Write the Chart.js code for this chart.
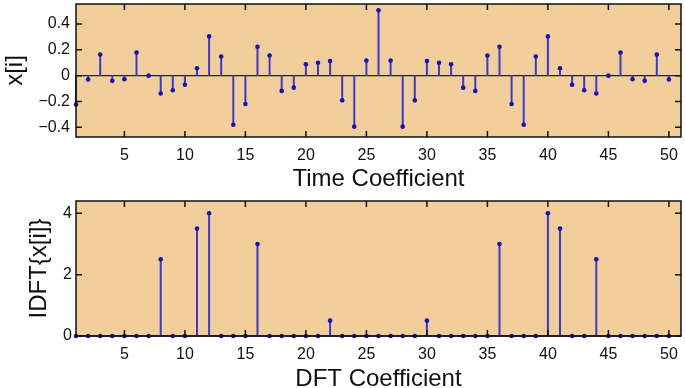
<!DOCTYPE html>
<html>
<head>
<meta charset="utf-8">
<script src="https://cdn.jsdelivr.net/npm/chart.js@4.4.0/dist/chart.umd.min.js"></script>
<style>
  html, body { margin: 0; padding: 0; background: #fff; }
  #wrap { position: relative; width: 685px; height: 388px; }
  .box { position: absolute; left: 0; width: 685px; }
</style>
</head>
<body>
<div id="wrap">
  <div class="box" style="top:0; height:195px;"><canvas id="timeChart"></canvas></div>
  <div class="box" style="top:195px; height:193px;"><canvas id="dftChart"></canvas></div>
</div>
<script>
// All Variables
const timeChart = document.getElementById('timeChart');
const dftChart = document.getElementById('dftChart');

// ---------- data ----------
const indexes = [];
for (let i = 1; i <= 50; i++) indexes.push(i);

const timeValues = [
  -0.224, -0.030, 0.164, -0.040, -0.028, 0.179, 0.000, -0.138, -0.113, -0.070,
  0.058, 0.304, 0.148, -0.380, -0.219, 0.224, 0.156, -0.118, -0.093, 0.088,
  0.100, 0.113, -0.191, -0.395, 0.118, 0.506, 0.118, -0.395, -0.191, 0.113,
  0.100, 0.088, -0.093, -0.118, 0.156, 0.224, -0.219, -0.380, 0.148, 0.304,
  0.058, -0.070, -0.113, -0.138, 0.000, 0.179, -0.028, -0.040, 0.164, -0.030
];

const dftValues = [
  0, 0, 0, 0, 0, 0, 0, 2.5, 0, 0,
  3.5, 4, 0, 0, 0, 3, 0, 0, 0, 0,
  0, 0.5, 0, 0, 0, 0, 0, 0, 0, 0.5,
  0, 0, 0, 0, 0, 3, 0, 0, 0, 4,
  3.5, 0, 0, 2.5, 0, 0, 0, 0, 0, 0
];

const xTicks = [5, 10, 15, 20, 25, 30, 35, 40, 45, 50];
const timeYTicks = [-0.4, -0.2, 0, 0.2, 0.4];
const dftYTicks = [0, 2, 4];

const bgColor = '#F2CE9A';
const stemColor = '#3636d2';
const dotColor = '#1212c0';
const fontFamily = "'Liberation Sans', Arial, Helvetica, sans-serif";

// border + inward ticks on all four sides, plus the tan background
const boxPlugin = {
  id: 'boxPlugin',
  beforeDatasetsDraw(chart) {
    const a = chart.chartArea, ctx = chart.ctx;
    ctx.save();
    ctx.fillStyle = bgColor;
    ctx.fillRect(a.left, a.top, a.right - a.left, a.bottom - a.top);
    // zero line
    const y0 = chart.scales.y.getPixelForValue(0);
    ctx.strokeStyle = '#222';
    ctx.lineWidth = 1.3;
    ctx.beginPath();
    ctx.moveTo(a.left, y0);
    ctx.lineTo(a.right, y0);
    ctx.stroke();
    ctx.restore();
  },
  afterDraw(chart) {
    const a = chart.chartArea, ctx = chart.ctx;
    const len = 6;
    ctx.save();
    ctx.strokeStyle = '#111';
    ctx.lineWidth = 1.5;
    ctx.beginPath();
    chart.scales.x.ticks.forEach(t => {
      const px = chart.scales.x.getPixelForValue(t.value);
      ctx.moveTo(px, a.bottom); ctx.lineTo(px, a.bottom - len);
      ctx.moveTo(px, a.top); ctx.lineTo(px, a.top + len);
    });
    chart.scales.y.ticks.forEach(t => {
      const py = chart.scales.y.getPixelForValue(t.value);
      ctx.moveTo(a.left, py); ctx.lineTo(a.left + len, py);
      ctx.moveTo(a.right, py); ctx.lineTo(a.right - len, py);
    });
    ctx.stroke();
    ctx.strokeRect(a.left, a.top, a.right - a.left, a.bottom - a.top);
    ctx.restore();
  }
};

function fmt(v) {
  const s = String(Math.round(v * 10) / 10);
  return s.replace('-', '\u2212');
}

function noPad(s) {
  s.paddingTop = 0; s.paddingBottom = 0; s.paddingLeft = 0; s.paddingRight = 0;
}

function stemChart(canvas, values, yMin, yMax, yTicks, xTitle, yTitle, opts) {
  const points = indexes.map((x, i) => ({ x: x, y: values[i] }));
  return new Chart(canvas, {
    type: 'bar',
    data: {
      datasets: [{
        type: 'bar',
        data: points,
        backgroundColor: stemColor,
        barThickness: 1.3,
        clip: false,
        order: 2
      }, {
        type: 'line',
        data: points,
        showLine: false,
        pointRadius: 2.3,
        pointBackgroundColor: dotColor,
        pointBorderWidth: 0,
        clip: false,
        order: 1
      }]
    },
    options: {
      responsive: true,
      maintainAspectRatio: false,
      animation: false,
      layout: { padding: opts.padding },
      plugins: { legend: { display: false }, tooltip: { enabled: false } },
      scales: {
        x: {
          type: 'linear',
          min: 1,
          max: 51,
          offset: false,
          grid: { display: false, drawTicks: false },
          border: { display: false },
          afterBuildTicks: s => { s.ticks = xTicks.map(v => ({ value: v })); },
          afterFit: s => { s.height = opts.xHeight; noPad(s); },
          ticks: {
            padding: opts.xTickPad,
            maxRotation: 0,
            color: '#111',
            font: { family: fontFamily, size: 16 }
          },
          title: {
            display: true,
            text: xTitle,
            color: '#111',
            font: { family: fontFamily, size: 24, lineHeight: 1 },
            padding: opts.xTitlePad
          }
        },
        y: {
          min: yMin,
          max: yMax,
          grid: { display: false, drawTicks: false },
          border: { display: false },
          afterBuildTicks: s => { s.ticks = yTicks.map(v => ({ value: v })); },
          afterFit: s => { s.width = 76; noPad(s); },
          ticks: {
            padding: opts.yTickPad,
            color: '#111',
            font: { family: fontFamily, size: 16 },
            callback: v => fmt(v)
          },
          title: {
            display: true,
            text: yTitle,
            color: '#111',
            font: { family: fontFamily, size: 24, lineHeight: 1 },
            padding: opts.yTitlePad
          }
        }
      }
    },
    plugins: [boxPlugin]
  });
}

// ---------- Time Coefficient chart ----------
stemChart(timeChart, timeValues, -0.475, 0.555, timeYTicks, 'Time Coefficient', 'x[i]', {
  padding: { top: 1, right: 1, left: 0, bottom: 0 },
  xHeight: 58,
  xTickPad: 9,
  yTickPad: 6,
  xTitlePad: { top: 0, bottom: 4 },
  yTitlePad: { top: 3, bottom: 0 }
});

// ---------- DFT Coefficient chart ----------
stemChart(dftChart, dftValues, 0, 4.4, dftYTicks, 'DFT Coefficient', 'IDFT{x[i]}', {
  padding: { top: 6, right: 2, left: 0, bottom: 0 },
  xHeight: 52,
  xTickPad: 9,
  yTickPad: 4,
  xTitlePad: { top: 0, bottom: -3 },
  yTitlePad: { top: 27, bottom: 0 }
});
</script>
</body>
</html>
